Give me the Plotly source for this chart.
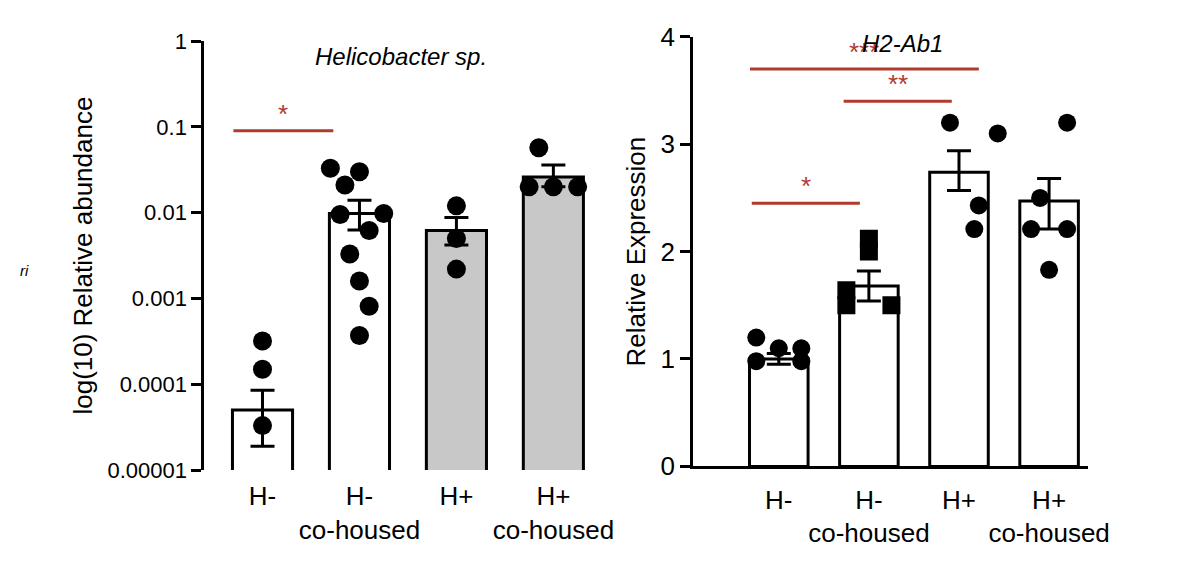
import plotly.graph_objects as go
import numpy as np

groups = ["H-", "H-<br>co-housed", "H+", "H+<br>co-housed"]
# Left: Helicobacter sp. relative abundance
l_mean = [5e-5, 0.0098, 0.0062, 0.026]
l_hi = [8.5e-5, 0.014, 0.0088, 0.036]
l_lo = [1.9e-5, 0.0063, 0.0042, 0.020]
l_fill = ["white", "white", "#c8c8c8", "#c8c8c8"]
l_pts = [[3.2e-4, 1.5e-4, 3.3e-5],
         [0.033, 0.030, 0.021, 0.0098, 0.0095, 0.0062, 0.0033, 0.0016, 0.00081, 0.00037],
         [0.012, 0.005, 0.0022],
         [0.057, 0.020, 0.020, 0.020]]
l_jit = [[0.0, 0.0, 0.0],
         [-0.3, 0.0, -0.15, 0.25, -0.2, 0.1, -0.1, 0.0, 0.1, 0.0],
         [0.0, 0.0, 0.0],
         [-0.15, -0.25, 0.0, 0.25]]
# Right: H2-Ab1 relative expression
r_mean = [1.0, 1.68, 2.74, 2.47]
r_hi = [1.05, 1.82, 2.94, 2.68]
r_lo = [0.95, 1.54, 2.57, 2.21]
r_pts = [[1.2, 1.1, 1.1, 0.98, 0.98],
         [2.12, 2.0, 1.64, 1.5, 1.5],
         [3.2, 3.1, 2.43, 2.21],
         [3.2, 2.5, 2.21, 2.21, 1.83]]
r_jit = [[-0.25, 0.0, 0.25, -0.25, 0.25],
         [0.0, 0.0, -0.25, -0.25, 0.25],
         [-0.1, 0.43, 0.22, 0.17],
         [0.2, -0.1, -0.2, 0.2, 0.0]]
r_sym = ["circle", "square", "circle", "circle"]

red = "#b03a2e"
fig = go.Figure()
xs = list(range(4))
fig.add_trace(go.Bar(x=xs, y=l_mean, width=0.62, marker=dict(color=l_fill, line=dict(color="black", width=3)),
                     error_y=dict(type="data", symmetric=False,
                                  array=[h - m for h, m in zip(l_hi, l_mean)],
                                  arrayminus=[m - l for m, l in zip(l_mean, l_lo)],
                                  color="black", thickness=3, width=12),
                     xaxis="x", yaxis="y", showlegend=False))
for i in xs:
    fig.add_trace(go.Scatter(x=[i + j for j in l_jit[i]], y=l_pts[i], mode="markers",
                             marker=dict(color="black", size=19), xaxis="x", yaxis="y", showlegend=False))
fig.add_trace(go.Bar(x=xs, y=r_mean, width=0.65, marker=dict(color="white", line=dict(color="black", width=3)),
                     error_y=dict(type="data", symmetric=False,
                                  array=[h - m for h, m in zip(r_hi, r_mean)],
                                  arrayminus=[m - l for m, l in zip(r_mean, r_lo)],
                                  color="black", thickness=3, width=12),
                     xaxis="x2", yaxis="y2", showlegend=False))
for i in xs:
    fig.add_trace(go.Scatter(x=[i + j for j in r_jit[i]], y=r_pts[i], mode="markers",
                             marker=dict(color="black", size=18, symbol=r_sym[i]), xaxis="x2", yaxis="y2", showlegend=False))

font = dict(family="Liberation Sans, Arial", color="black")
axcommon = dict(showgrid=False, zeroline=False, showline=True, linecolor="black", linewidth=3,
                ticks="outside", ticklen=10, tickwidth=3, tickcolor="black", tickfont=dict(size=26, **font))
fig.update_layout(
    width=1200, height=561, margin=dict(l=0, r=0, t=0, b=0),
    plot_bgcolor="white", paper_bgcolor="white", barmode="overlay",
    xaxis=dict(domain=[200/1200, 600/1200], range=[-0.6, 3.45], tickvals=xs, ticktext=groups,
               ticklabelstandoff=8, **{**axcommon, "ticks": "", "showline": False}),
    yaxis=dict(domain=[0.158, 0.966], type="log", range=[-5, 0],
               tickvals=[1e-5, 1e-4, 1e-3, 1e-2, 0.1, 1],
               ticktext=["0.00001", "0.0001", "0.001", "0.01", "0.1", "1"],
               title=dict(text="log(10) Relative abundance", font=dict(size=26, **font), standoff=8),
               **{**axcommon, "tickfont": dict(size=22, **font)}),
    xaxis2=dict(domain=[698/1200, 1100/1200], range=[-0.95, 3.43], tickvals=xs, ticktext=groups,
                anchor="y2", ticklabelstandoff=8, **{**axcommon, "ticks": ""}),
    yaxis2=dict(domain=[0.165, 0.974], range=[0, 4], tickvals=[0, 1, 2, 3, 4], anchor="x2",
                title=dict(text="Relative Expression", font=dict(size=26, **font), standoff=8),
                **axcommon),
)
sig = [("x", "y", -0.3, 0.73, 0.09, "*"),
       ("x2", "y2", -0.32, 2.22, 3.7, "***"),
       ("x2", "y2", 0.72, 1.92, 3.4, "**"),
       ("x2", "y2", -0.3, 0.9, 2.45, "*")]
for xr, yr, x0, x1, yv, txt in sig:
    fig.add_shape(type="line", xref=xr, yref=yr, x0=x0, x1=x1, y0=yv, y1=yv, line=dict(color=red, width=3))
    ya = np.log10(yv) if yr == "y" else yv
    fig.add_annotation(xref=xr, yref=yr, x=(x0 + x1) / 2, y=ya, text=txt, showarrow=False,
                       yanchor="bottom", yshift=0, font=dict(size=26, color=red, family=font["family"]))
fig.add_annotation(xref="paper", yref="paper", x=400/1200, y=0.966, text="<i>Helicobacter sp.</i>",
                   showarrow=False, font=dict(size=24, **font))
fig.add_annotation(xref="paper", yref="paper", x=955/1200, y=0.99, text="<i>H2-Ab1</i>",
                   showarrow=False, font=dict(size=24, **font))
fig.add_annotation(xref="paper", yref="paper", x=10/1200, y=0.534, text="<i>ri</i>", xanchor="left",
                   showarrow=False, font=dict(size=15, **font))
fig.write_html("out.html")
